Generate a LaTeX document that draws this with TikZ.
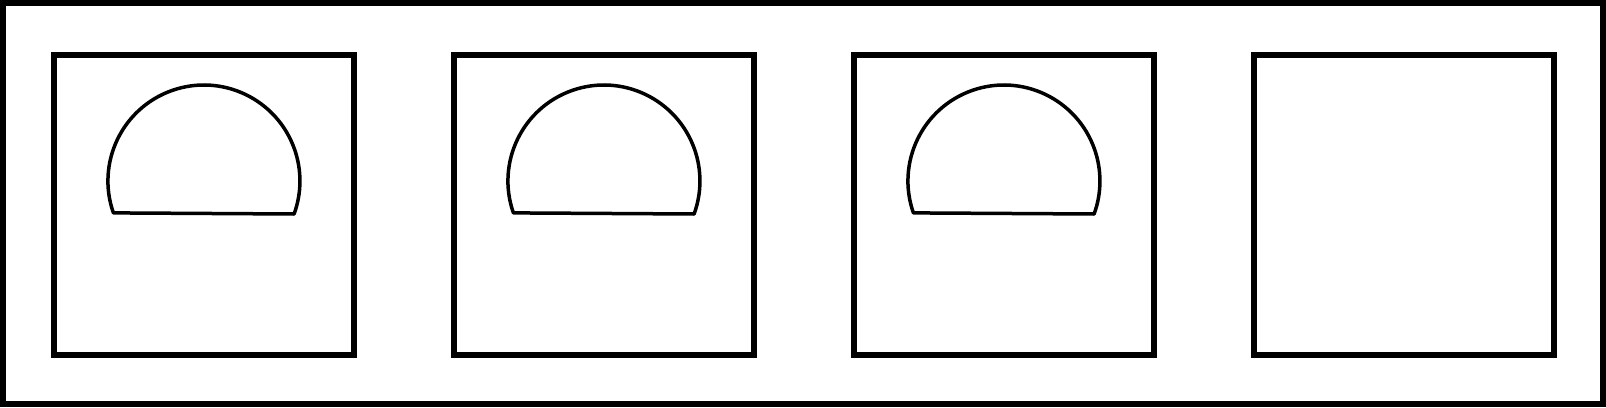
\documentclass[tikz,border=0pt]{standalone}
\begin{document}
\begin{tikzpicture}[x=1pt,y=1pt,
  frame/.style={draw=black,line width=6pt},
  panel/.style={draw=black,line width=6pt,minimum width=300pt,minimum height=300pt,inner sep=0pt,outer sep=0pt},
  dome/.style={draw=black,line width=3.5pt,line join=round}]
\useasboundingbox (0,0) rectangle (1606,407);
\draw[frame] (3,3) rectangle (1603,403.5);
\node[panel] (p1) at (204,202) {};
\node[panel] (p2) at (604,202) {};
\node[panel] (p3) at (1004,202) {};
\node[panel] (p4) at (1404,202) {};
\foreach \p in {p1,p2,p3}{
  \draw[dome] ([shift={(-90.6,-7.9)}]\p.center) arc[start angle=199.4,end angle=-20.1,radius=96] -- cycle;
}
\end{tikzpicture}
\end{document}
